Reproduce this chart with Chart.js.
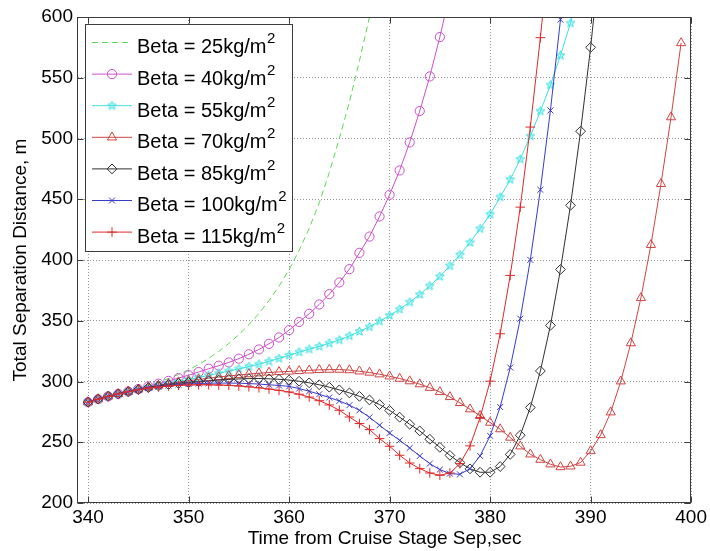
<!DOCTYPE html>
<html>
<head>
<meta charset="utf-8">
<title>Total Separation Distance</title>
<script src="https://cdn.jsdelivr.net/npm/chart.js@4.4.1/dist/chart.umd.min.js"></script>
<style>
  html, body { margin: 0; padding: 0; background: #fff; }
  #wrap { width: 710px; height: 551px; }
</style>
</head>
<body>
<div id="wrap"><canvas id="chart" width="710" height="551"></canvas></div>
<script>
// time axis (seconds), one sample per second
const timeSec = [340, 341, 342, 343, 344, 345, 346, 347, 348, 349,
                 350, 351, 352, 353, 354, 355, 356, 357, 358, 359,
                 360, 361, 362, 363, 364, 365, 366, 367, 368, 369,
                 370, 371, 372, 373, 374, 375, 376, 377, 378, 379,
                 380, 381, 382, 383, 384, 385, 386, 387, 388, 389,
                 390, 391, 392, 393, 394, 395, 396, 397, 398, 399];
const xTicks = [340, 350, 360, 370, 380, 390, 400];
const betaValues = [25, 40, 55, 70, 85, 100, 115];

// separation distance (m)
const beta25 = [283, 285.2, 287.4, 289.6, 291.8, 294, 296.5, 299.3, 302.4, 305.8,
                309.6, 314, 319, 324.8, 331.3, 338.6, 346.8, 356, 366.5, 378.5,
                392, 408, 426, 447, 472, 500, 530, 564, 600, 640];
const beta40 = [283, 285.5, 287.8, 289.8, 291.7, 293.8, 296, 298.2, 300.5, 302.8,
                305.2, 307.8, 310.5, 313, 315.7, 318.8, 322.4, 326.4, 331, 336.2,
                342.3, 349, 355.7, 363.4, 371.9, 381.5, 392.5, 405.9, 419.3, 435.8,
                453.7, 473.7, 496.8, 522.6, 551.1, 583.5, 620];
const beta55 = [283, 285.5, 287.8, 289.8, 291.7, 293.5, 295.2, 296.9, 298.5, 300,
                301.5, 303.2, 305, 306.8, 308.6, 310.4, 312.3, 314.3, 316.6, 319,
                321.6, 324.2, 326.6, 328.9, 331.5, 334.2, 337.5, 341.2, 345, 349.6,
                354.3, 359.5, 365.3, 371.6, 378.7, 386.4, 395.2, 404.2, 414.4, 425.7,
                437.5, 451.8, 466.2, 483, 502, 522.5, 544, 568.4, 595, 625];
const beta70 = [283, 285.5, 287.8, 289.8, 291.7, 293.5, 295.2, 296.7, 298.1, 299.4,
                300.6, 301.7, 302.7, 303.7, 304.6, 305.4, 306.1, 306.8, 307.4, 307.9,
                308.3, 308.7, 309.2, 309.6, 309.8, 309.8, 309.4, 308.4, 307.4, 306,
                304.3, 302.4, 300.3, 297.8, 294.9, 291.4, 287.3, 282.4, 277.2, 271.8,
                266.2, 260.8, 253.9, 246.7, 240.1, 235.7, 231.9, 229.6, 230.2, 233.3,
                242.8, 256, 274.7, 300.2, 331.6, 368.8, 412.5, 462.7, 517.6, 578.6];
const beta85 = [283, 285.5, 287.8, 289.8, 291.7, 293.4, 295, 296.3, 297.4, 298.4,
                299.2, 299.9, 300.6, 301.2, 301.7, 302.1, 302.4, 302.5, 302.2, 301.8,
                301.2, 300.2, 298.9, 297.3, 295.3, 293.1, 290.6, 287.8, 284.8, 281,
                276.2, 270.6, 264.8, 259.3, 252.5, 245.8, 239.2, 233.2, 228.1, 225.3,
                225.3, 230, 240, 255.8, 278.6, 308.7, 346.2, 392.2, 445, 506,
                575, 655];
const beta100 = [283, 285.5, 287.8, 289.8, 291.6, 293.3, 294.7, 295.8, 296.7, 297.4,
                 297.9, 298.3, 298.6, 298.7, 298.7, 298.6, 298.3, 297.9, 297.3, 296.7,
                 296, 294.2, 292, 289.5, 286.8, 284, 280.5, 276.3, 270.5, 264,
                 257.6, 251.6, 245.3, 238.7, 232.4, 227.5, 224.2, 223.6, 228.3, 238.7,
                 255.3, 279, 311.5, 351.7, 400.1, 457.8, 523.1, 597.8, 680];
const beta115 = [283, 285.5, 287.8, 289.8, 291.6, 293.2, 294.5, 295.5, 296.3, 296.8,
                 297.1, 297.3, 297.3, 297.1, 296.8, 296.3, 295.6, 294.8, 293.8, 292.7,
                 291.4, 289.5, 287.2, 284.2, 280.7, 276.3, 270.8, 265.4, 260.4, 253,
                 246.7, 239.3, 232.9, 228.3, 224.7, 222.8, 224.7, 232.4, 247, 270.3,
                 300.3, 339.3, 387.3, 443.5, 509.4, 583, 665];

const seriesValues = [beta25, beta40, beta55, beta70, beta85, beta100, beta115];
const seriesColors = ['#5cd65c', '#cc4fcc', '#40e0e0', '#cf4444', '#303030', '#3a3ac8', '#dd2a2a'];
const seriesMarkers = ['none', 'circle', 'star', 'triangle', 'rectRot', 'crossRot', 'cross'];
const markerSize = [0, 4.6, 4.6, 5.3, 4.9, 4.2, 4.8];

const FONT = '"Liberation Sans", Arial, Helvetica, sans-serif';

// MATLAB style pentagram marker
function makeStar(color, r) {
    const s = Math.ceil(r * 2) + 3;
    const c = document.createElement('canvas');
    c.width = s; c.height = s;
    const g = c.getContext('2d');
    g.strokeStyle = color;
    g.fillStyle = 'rgba(64,224,224,0.35)';
    g.lineWidth = 1;
    g.beginPath();
    for (let k = 0; k < 10; k++) {
        const ang = -Math.PI / 2 + k * Math.PI / 5;
        const rr = k % 2 ? r * 0.45 : r;
        const px = s / 2 + rr * Math.cos(ang), py = s / 2 + rr * Math.sin(ang);
        if (k) g.lineTo(px, py); else g.moveTo(px, py);
    }
    g.closePath();
    g.fill();
    g.stroke();
    return c;
}
const starImg = makeStar(seriesColors[2], markerSize[2]);

function drawMarker(ctx, style, x, y, r) {
    if (style === 'none') return;
    if (style === 'star') {
        ctx.drawImage(starImg, x - starImg.width / 2, y - starImg.height / 2);
        return;
    }
    ctx.beginPath();
    if (style === 'circle') {
        ctx.arc(x, y, r, 0, Math.PI * 2);
    } else if (style === 'triangle') {
        ctx.moveTo(x, y - r);
        ctx.lineTo(x + r * 0.866, y + r / 2);
        ctx.lineTo(x - r * 0.866, y + r / 2);
        ctx.closePath();
    } else if (style === 'rectRot') {
        ctx.moveTo(x, y - r); ctx.lineTo(x + r, y);
        ctx.lineTo(x, y + r); ctx.lineTo(x - r, y);
        ctx.closePath();
    } else if (style === 'crossRot') {
        const d = r * 0.7071;
        ctx.moveTo(x - d, y - d); ctx.lineTo(x + d, y + d);
        ctx.moveTo(x + d, y - d); ctx.lineTo(x - d, y + d);
    } else if (style === 'cross') {
        ctx.moveTo(x - r, y); ctx.lineTo(x + r, y);
        ctx.moveTo(x, y - r); ctx.lineTo(x, y + r);
    }
    ctx.stroke();
}

// axes box, inward ticks and the legend box
const matlabFrame = {
    id: 'matlabFrame',
    afterDatasetsDraw(chart) {
        const { ctx, chartArea: a, scales: { x, y } } = chart;
        const L = Math.round(a.left) - 0.5, R = Math.round(a.right) - 0.5;
        const T = Math.round(a.top) + 0.5, B = Math.round(a.bottom) - 0.5;
        ctx.save();
        ctx.strokeStyle = '#3c3c3c';
        ctx.lineWidth = 1;
        ctx.setLineDash([]);
        ctx.strokeRect(L, T, R - L, B - T);
        ctx.beginPath();
        xTicks.forEach(v => {
            const px = Math.round(x.getPixelForValue(v)) + 0.5;
            ctx.moveTo(px, B); ctx.lineTo(px, B - 6);
            ctx.moveTo(px, T); ctx.lineTo(px, T + 6);
        });
        y.ticks.forEach(t => {
            const py = Math.round(y.getPixelForValue(t.value)) + 0.5;
            ctx.moveTo(L, py); ctx.lineTo(L + 6, py);
            ctx.moveTo(R, py); ctx.lineTo(R - 6, py);
        });
        ctx.stroke();

        // legend
        const box = { left: 85.5, top: 24.5, right: 292.5, bottom: 251.5 };
        ctx.fillStyle = '#fff';
        ctx.fillRect(box.left, box.top, box.right - box.left, box.bottom - box.top);
        ctx.strokeStyle = '#3c3c3c';
        ctx.strokeRect(box.left, box.top, box.right - box.left, box.bottom - box.top);
        betaValues.forEach((b, i) => {
            const yy = 42.5 + i * 31.6;
            ctx.strokeStyle = seriesColors[i];
            ctx.lineWidth = 1;
            ctx.setLineDash(i === 0 ? [6, 4] : []);
            ctx.beginPath();
            ctx.moveTo(92, yy); ctx.lineTo(132, yy);
            ctx.stroke();
            ctx.setLineDash([]);
            drawMarker(ctx, seriesMarkers[i], 112, yy, markerSize[i]);
            const txt = 'Beta = ' + b + 'kg/m';
            ctx.fillStyle = '#000';
            ctx.textBaseline = 'alphabetic';
            ctx.textAlign = 'left';
            ctx.font = '20px ' + FONT;
            ctx.fillText(txt, 137, yy + 10.8);
            const w = ctx.measureText(txt).width;
            ctx.font = '15px ' + FONT;
            ctx.fillText('2', 137 + w + 0.5, yy + 0.8);
        });
        ctx.restore();
    }
};

const datasets = seriesValues.map((vals, i) => ({
    label: 'Beta = ' + betaValues[i] + 'kg/m\u00b2',
    data: vals.map((v, k) => ({ x: timeSec[k], y: v })),
    borderColor: seriesColors[i],
    backgroundColor: 'transparent',
    borderWidth: 1,
    borderDash: i === 0 ? [6, 4] : [],
    pointStyle: i === 2 ? starImg : seriesMarkers[i],
    pointRadius: i === 0 ? 0 : markerSize[i],
    pointBorderColor: seriesColors[i],
    pointBackgroundColor: 'transparent',
    pointBorderWidth: 1,
    tension: 0,
    order: 6 - i
}));

const tickFont = { family: FONT, size: 19 };

new Chart(document.getElementById('chart'), {
    type: 'line',
    data: { datasets: datasets },
    options: {
        responsive: false,
        animation: false,
        devicePixelRatio: 1,
        layout: { padding: { top: 17, right: 16, left: 0, bottom: 0 } },
        plugins: { legend: { display: false }, tooltip: { enabled: false } },
        scales: {
            x: {
                type: 'linear',
                min: 339,
                max: 400,
                afterBuildTicks: s => { s.ticks = xTicks.map(v => ({ value: v })); },
                afterFit: s => { s.height = 48; },
                grid: { color: 'rgba(0,0,0,0.42)', lineWidth: 1, drawTicks: false },
                border: { display: false, dash: [1, 2] },
                ticks: { color: '#000', font: tickFont, padding: 3, maxRotation: 0, autoSkip: false },
                title: {
                    display: true, text: 'Time from Cruise Stage Sep,sec', color: '#000',
                    font: tickFont, padding: { top: 0, bottom: 1 }
                }
            },
            y: {
                type: 'linear',
                min: 200,
                max: 600,
                afterFit: s => { s.width = 78; },
                grid: { color: 'rgba(0,0,0,0.42)', lineWidth: 1, drawTicks: false },
                border: { display: false, dash: [1, 2] },
                ticks: { color: '#000', font: tickFont, padding: 5, stepSize: 50 },
                title: {
                    display: true, text: 'Total Separation Distance, m', color: '#000',
                    font: tickFont, padding: { top: 9, bottom: 0 }
                }
            }
        }
    },
    plugins: [matlabFrame]
});
</script>
</body>
</html>
